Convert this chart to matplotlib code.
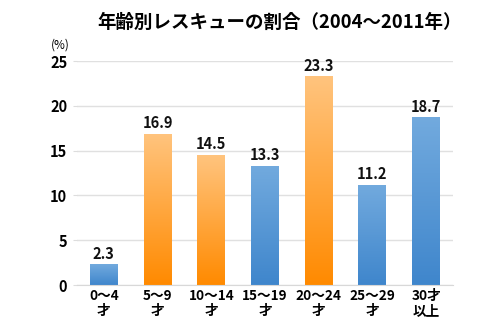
import matplotlib
matplotlib.use("Agg")
import matplotlib.pyplot as plt
import numpy as np
from matplotlib.colors import LinearSegmentedColormap

plt.rcParams['font.family'] = ['Noto Sans CJK JP', 'DejaVu Sans']

categories = ["0～4\n才", "5～9\n才", "10～14\n才", "15～19\n才", "20～24\n才", "25～29\n才", "30才\n以上"]
values = [2.3, 16.9, 14.5, 13.3, 23.3, 11.2, 18.7]
highlight = [False, True, True, False, True, False, False]
yticks = [0, 5, 10, 15, 20, 25]
title = "年齢別レスキューの割合（2004～2011年）"

fig = plt.figure(figsize=(5, 3.33), dpi=100)
ax = fig.add_axes([77/500, 1 - 285/333, (453-77)/500, (285-61)/333])

x = np.arange(len(categories))
bars = ax.bar(x, values, width=0.52, color='none', zorder=3)

cmap_orange = LinearSegmentedColormap.from_list("o", ["#ff8a00", "#ffc47e"])
cmap_blue = LinearSegmentedColormap.from_list("b", ["#3f86cc", "#72aade"])
grad = np.linspace(0, 1, 256).reshape(-1, 1)
for b, h in zip(bars, highlight):
    x0, y0 = b.get_x(), b.get_y()
    w, hgt = b.get_width(), b.get_height()
    im = ax.imshow(grad, extent=[x0, x0 + w, y0, y0 + hgt], origin='lower',
                   cmap=cmap_orange if h else cmap_blue, aspect='auto', zorder=3)
    im.set_clip_path(b)
    ax.text(x0 + w / 2, hgt + 0.3, f"{hgt:.1f}", ha='center', va='bottom',
            fontsize=10.5, fontweight='bold', color='#111111', zorder=4)

ax.set_xlim(-0.5, len(categories) - 0.5)
ax.set_ylim(0, 25)
ax.set_yticks(yticks)
ax.set_yticklabels([str(t) for t in yticks], fontsize=10.5, fontweight='bold')
ax.set_xticks(x)
ax.set_xticklabels(categories, fontsize=9.8, fontweight='bold', linespacing=1.05)
ax.tick_params(axis='y', length=3, color='#dddddd', pad=4)
ax.tick_params(axis='x', length=0, pad=3)
ax.grid(axis='y', color='#e0e0e0', linewidth=1, zorder=0)
for s in ['top', 'right', 'left']:
    ax.spines[s].set_visible(False)
ax.spines['bottom'].set_color('#d8d8d8')
ax.spines['bottom'].set_zorder(5)

fig.text(60/500, 1 - 45/333, "(%)", fontsize=8.5, ha='center', va='center')
fig.text(280/500, 1 - 22/333, title, fontsize=13.3, fontweight='bold', ha='center', va='center')

fig.savefig("out.png", dpi=100)
